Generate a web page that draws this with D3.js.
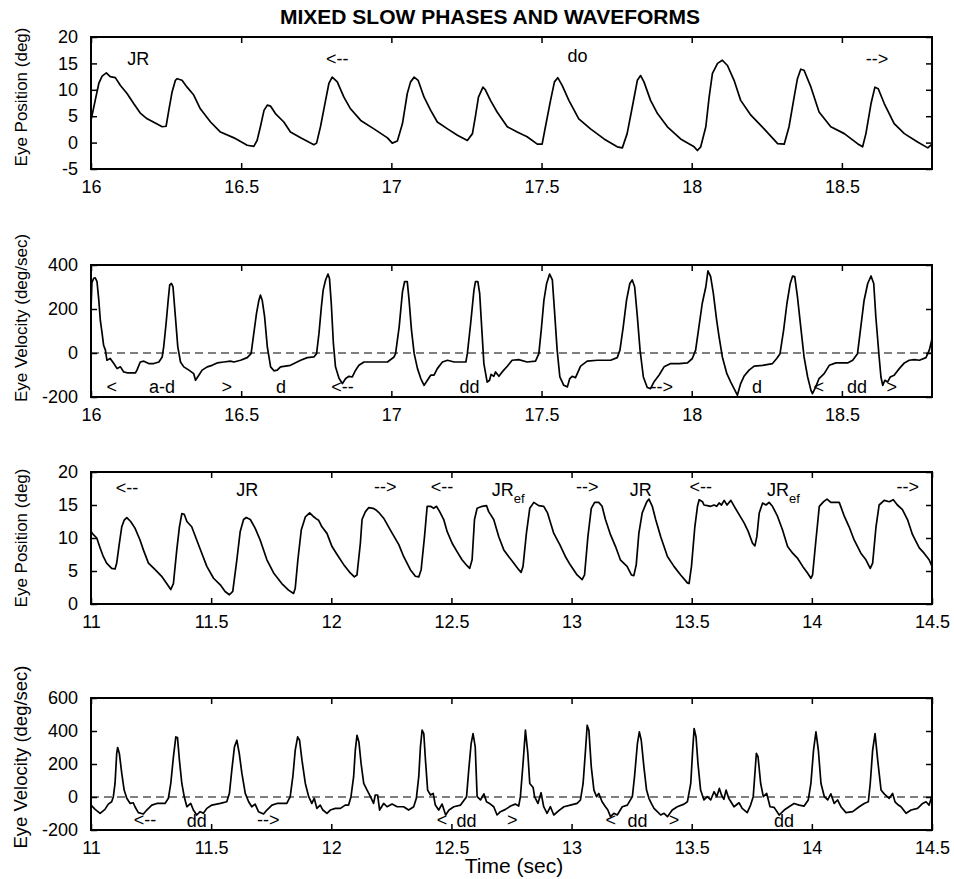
<!DOCTYPE html>
<html>
<head>
<meta charset="utf-8">
<script src="https://cdn.jsdelivr.net/npm/d3@7/dist/d3.min.js"></script>
<style>
	body { margin: 0; background: #fff; }
	text { font-family: "Liberation Sans", Arial, Helvetica, sans-serif; fill: #000; }
</style>
</head>
<body>
<div class="chart"></div>
<script>
// values: [time (s), value]
const title = 'MIXED SLOW PHASES AND WAVEFORMS';
const xLabel = 'Time (sec)';

// panel 1 - eye position, 16-18.8 s
const pos1 = [[16.00,4.2],[16.014,8.0],[16.026,11.2],[16.037,12.6],[16.051,13.2],[16.064,12.5],[16.081,12.3],[16.098,10.8],[16.12,9.3],[16.142,7.4],[16.164,5.6],[16.187,4.5],[16.22,3.5],[16.237,3.0],[16.25,3.1],[16.259,6.1],[16.27,9.6],[16.281,11.8],[16.287,12.1],[16.303,11.8],[16.32,10.5],[16.342,9.0],[16.364,6.4],[16.398,3.9],[16.431,2.0],[16.476,0.9],[16.52,-0.5],[16.542,-0.7],[16.553,0.4],[16.564,3.0],[16.576,6.1],[16.587,7.1],[16.598,6.9],[16.614,5.5],[16.642,3.9],[16.664,2.0],[16.698,0.9],[16.742,-0.4],[16.751,-0.1],[16.764,3.0],[16.781,8.0],[16.792,11.2],[16.803,12.4],[16.82,11.5],[16.842,8.6],[16.864,6.4],[16.898,4.2],[16.942,2.6],[16.987,0.9],[17.003,-0.1],[17.02,0.3],[17.037,3.6],[17.053,9.3],[17.064,11.5],[17.076,12.4],[17.089,11.8],[17.109,8.6],[17.131,6.1],[17.153,3.9],[17.187,2.6],[17.22,1.4],[17.253,0.4],[17.27,1.7],[17.28,5.0],[17.29,8.6],[17.305,10.5],[17.313,10.0],[17.33,8.0],[17.352,5.8],[17.386,3.0],[17.419,2.0],[17.452,1.1],[17.486,-0.3],[17.502,-0.3],[17.513,3.0],[17.53,8.0],[17.543,11.5],[17.554,12.3],[17.569,10.8],[17.591,8.0],[17.624,4.5],[17.663,2.6],[17.708,0.7],[17.752,-0.8],[17.769,-1.0],[17.785,1.7],[17.802,6.7],[17.819,11.8],[17.83,12.7],[17.841,11.5],[17.863,8.0],[17.886,5.5],[17.919,3.0],[17.963,0.7],[18.008,-0.8],[18.019,-1.5],[18.03,-0.8],[18.047,3.0],[18.058,8.6],[18.069,13.1],[18.086,15.0],[18.102,15.6],[18.119,14.6],[18.141,11.8],[18.163,8.0],[18.197,5.2],[18.241,2.6],[18.286,-0.2],[18.308,-0.3],[18.324,3.0],[18.341,8.6],[18.352,12.1],[18.363,13.9],[18.374,13.7],[18.397,10.5],[18.424,5.8],[18.463,3.0],[18.508,1.7],[18.552,-0.2],[18.569,-0.8],[18.58,1.7],[18.597,7.4],[18.61,10.5],[18.621,10.2],[18.641,7.4],[18.674,3.6],[18.708,1.7],[18.752,0.1],[18.786,-1.0],[18.80,-0.3]];

// panel 2 - eye velocity, 16-18.8 s
const vel1 = [[16.0,200],[16.003,320],[16.009,340],[16.014,342],[16.02,324],[16.026,240],[16.031,149],[16.037,89],[16.042,35],[16.048,13],[16.053,-33],[16.064,-25],[16.076,-48],[16.087,-71],[16.098,-63],[16.109,-86],[16.12,-90],[16.148,-90],[16.153,-78],[16.164,-41],[16.176,-37],[16.192,-48],[16.209,-48],[16.226,-41],[16.237,-18],[16.242,28],[16.25,134],[16.257,240],[16.262,309],[16.268,316],[16.273,301],[16.281,165],[16.289,28],[16.298,-41],[16.309,-63],[16.326,-78],[16.342,-94],[16.348,-124],[16.359,-101],[16.37,-78],[16.387,-63],[16.403,-56],[16.42,-45],[16.442,-41],[16.464,-37],[16.476,-41],[16.498,-33],[16.52,-21],[16.533,-3],[16.542,89],[16.551,180],[16.559,240],[16.564,263],[16.57,240],[16.578,165],[16.587,28],[16.598,-63],[16.609,-81],[16.62,-78],[16.631,-63],[16.664,-56],[16.676,-48],[16.698,-33],[16.72,-21],[16.742,-18],[16.751,-3],[16.759,89],[16.767,210],[16.773,286],[16.781,332],[16.789,359],[16.794,339],[16.8,225],[16.807,43],[16.814,-63],[16.826,-116],[16.837,-139],[16.848,-116],[16.859,-106],[16.87,-109],[16.881,-78],[16.892,-56],[16.909,-41],[16.942,-41],[16.987,-41],[17.009,-18],[17.014,-3],[17.026,119],[17.037,278],[17.044,324],[17.053,324],[17.059,240],[17.067,104],[17.076,-3],[17.087,-71],[17.098,-116],[17.109,-147],[17.12,-124],[17.131,-101],[17.142,-101],[17.153,-71],[17.17,-41],[17.187,-33],[17.209,-41],[17.248,-41],[17.253,-3],[17.264,134],[17.275,286],[17.28,324],[17.288,324],[17.294,271],[17.302,89],[17.308,-48],[17.319,-132],[17.327,-124],[17.332,-97],[17.341,-106],[17.347,-86],[17.358,-106],[17.369,-86],[17.386,-60],[17.402,-33],[17.424,-30],[17.452,-41],[17.48,-37],[17.491,-3],[17.499,104],[17.508,240],[17.517,316],[17.527,359],[17.536,332],[17.543,195],[17.552,13],[17.561,-109],[17.574,-147],[17.586,-154],[17.594,-116],[17.602,-106],[17.613,-112],[17.619,-94],[17.63,-60],[17.652,-37],[17.686,-33],[17.73,-33],[17.752,-21],[17.761,13],[17.772,119],[17.783,240],[17.794,316],[17.802,332],[17.81,301],[17.819,165],[17.828,13],[17.839,-109],[17.852,-157],[17.863,-162],[17.874,-132],[17.891,-101],[17.908,-63],[17.93,-48],[17.958,-48],[17.986,-45],[18.002,-25],[18.013,13],[18.024,119],[18.035,225],[18.047,301],[18.054,373],[18.063,347],[18.072,271],[18.083,149],[18.091,74],[18.102,-18],[18.117,-94],[18.13,-132],[18.141,-162],[18.152,-192],[18.163,-139],[18.174,-106],[18.191,-78],[18.208,-60],[18.236,-56],[18.269,-48],[18.283,-25],[18.294,-3],[18.306,104],[18.317,225],[18.328,316],[18.336,350],[18.343,347],[18.352,256],[18.363,119],[18.374,-18],[18.386,-109],[18.397,-170],[18.402,-185],[18.413,-154],[18.424,-116],[18.441,-94],[18.458,-56],[18.48,-45],[18.519,-45],[18.536,-33],[18.552,-3],[18.563,119],[18.574,240],[18.586,316],[18.597,350],[18.606,316],[18.613,165],[18.624,-18],[18.63,-109],[18.636,-147],[18.643,-124],[18.652,-132],[18.661,-109],[18.674,-101],[18.691,-71],[18.708,-45],[18.724,-33],[18.741,-30],[18.758,-33],[18.78,-21],[18.791,13],[18.799,58],[18.80,81]];

// panel 3 - eye position, 11-14.5 s
const pos2 = [[11.0,11.0],[11.01,10.5],[11.024,10.0],[11.038,8.5],[11.051,7.2],[11.065,6.2],[11.086,5.4],[11.1,5.3],[11.107,6.2],[11.118,9.2],[11.128,11.7],[11.138,12.7],[11.149,13.1],[11.165,12.5],[11.183,11.5],[11.204,9.7],[11.218,8.2],[11.239,6.2],[11.267,5.2],[11.294,4.2],[11.315,3.1],[11.332,2.2],[11.343,3.1],[11.357,8.2],[11.368,11.7],[11.378,13.7],[11.388,13.6],[11.399,12.5],[11.419,11.7],[11.44,9.7],[11.461,7.7],[11.482,5.7],[11.51,3.9],[11.538,2.9],[11.558,1.9],[11.576,1.4],[11.59,1.9],[11.607,6.7],[11.621,11.0],[11.635,12.8],[11.646,13.1],[11.663,12.8],[11.683,11.5],[11.704,9.7],[11.732,6.7],[11.76,4.7],[11.794,3.1],[11.822,2.1],[11.843,1.6],[11.85,2.4],[11.861,6.7],[11.875,11.2],[11.892,13.2],[11.91,13.8],[11.924,13.3],[11.938,12.9],[11.947,12.7],[11.961,11.7],[11.982,10.7],[12.003,8.7],[12.024,7.5],[12.051,6.0],[12.079,4.7],[12.096,4.1],[12.107,4.4],[12.121,9.2],[12.128,12.8],[12.142,14.0],[12.156,14.6],[12.174,14.5],[12.188,14.2],[12.197,13.9],[12.218,13.0],[12.246,11.2],[12.281,9.0],[12.301,7.2],[12.329,5.2],[12.35,4.2],[12.364,4.1],[12.374,5.2],[12.388,10.2],[12.399,14.8],[12.413,14.8],[12.426,14.5],[12.438,14.8],[12.451,14.0],[12.468,12.8],[12.482,11.0],[12.503,9.2],[12.524,7.9],[12.544,6.7],[12.565,5.8],[12.576,5.4],[12.586,6.7],[12.596,12.8],[12.607,14.5],[12.628,14.8],[12.646,14.9],[12.655,14.0],[12.676,12.8],[12.697,10.2],[12.718,8.2],[12.738,7.2],[12.759,6.2],[12.78,5.2],[12.79,4.8],[12.798,5.7],[12.812,10.7],[12.826,14.5],[12.843,15.4],[12.863,14.9],[12.884,14.8],[12.9,13.8],[12.926,10.7],[12.951,9.0],[12.974,7.2],[12.995,5.9],[13.023,4.4],[13.044,3.7],[13.054,4.4],[13.068,10.2],[13.082,14.5],[13.096,15.4],[13.113,15.4],[13.127,14.8],[13.141,12.8],[13.162,10.5],[13.183,8.7],[13.203,6.7],[13.231,5.7],[13.249,4.4],[13.259,4.3],[13.269,5.9],[13.28,10.7],[13.294,13.8],[13.312,15.4],[13.322,15.9],[13.336,14.8],[13.35,12.8],[13.371,10.2],[13.399,7.2],[13.426,5.7],[13.454,4.4],[13.482,3.2],[13.489,3.1],[13.499,5.7],[13.513,11.7],[13.524,14.8],[13.531,15.8],[13.545,15.5],[13.551,15.0],[13.565,14.9],[13.579,14.8],[13.593,15.0],[13.604,14.8],[13.614,15.3],[13.624,15.0],[13.635,15.7],[13.647,15.0],[13.663,15.7],[13.677,14.8],[13.698,13.5],[13.718,12.3],[13.735,11.0],[13.753,9.2],[13.763,8.8],[13.771,10.2],[13.781,13.8],[13.795,15.3],[13.809,15.0],[13.822,15.4],[13.836,14.8],[13.857,13.3],[13.878,11.2],[13.899,8.7],[13.92,7.7],[13.941,6.9],[13.962,5.7],[13.982,4.7],[13.996,3.9],[14.003,4.4],[14.017,9.7],[14.031,14.8],[14.049,15.5],[14.063,15.9],[14.079,15.4],[14.114,15.4],[14.135,13.3],[14.155,11.7],[14.176,9.7],[14.204,7.7],[14.225,6.7],[14.243,5.4],[14.253,6.2],[14.267,11.7],[14.28,15.0],[14.301,15.7],[14.322,15.5],[14.339,15.8],[14.356,15.0],[14.377,14.3],[14.398,12.8],[14.419,10.5],[14.447,8.5],[14.467,7.7],[14.488,6.7],[14.5,5.7]];

// panel 4 - eye velocity, 11-14.5 s
const vel2 = [[11.0,-49],[11.017,-75],[11.038,-99],[11.058,-75],[11.072,-43],[11.086,-29],[11.093,2],[11.1,82],[11.107,264],[11.111,300],[11.118,264],[11.128,143],[11.138,42],[11.149,-8],[11.163,-39],[11.176,-35],[11.183,-59],[11.197,-95],[11.218,-103],[11.232,-79],[11.253,-49],[11.274,-39],[11.308,-39],[11.322,-8],[11.332,82],[11.343,243],[11.353,364],[11.36,360],[11.368,223],[11.378,82],[11.388,2],[11.399,-59],[11.415,-39],[11.426,-79],[11.44,-109],[11.454,-89],[11.468,-99],[11.482,-69],[11.503,-49],[11.538,-39],[11.565,-29],[11.576,22],[11.586,163],[11.597,304],[11.607,344],[11.617,264],[11.628,143],[11.642,22],[11.656,-29],[11.669,-59],[11.683,-43],[11.697,-89],[11.718,-103],[11.732,-79],[11.753,-49],[11.774,-39],[11.815,-39],[11.829,2],[11.84,123],[11.85,284],[11.86,364],[11.868,344],[11.878,223],[11.892,82],[11.906,2],[11.919,-39],[11.929,-8],[11.94,-69],[11.954,-49],[11.965,-79],[11.982,-99],[11.996,-79],[12.017,-69],[12.038,-69],[12.058,-49],[12.072,-49],[12.082,2],[12.093,123],[12.1,284],[12.107,374],[12.115,334],[12.124,203],[12.135,82],[12.149,42],[12.163,2],[12.176,-39],[12.183,12],[12.193,12],[12.201,-79],[12.218,-39],[12.232,-59],[12.253,-43],[12.274,-59],[12.301,-59],[12.322,-79],[12.343,-59],[12.354,-8],[12.364,123],[12.371,304],[12.378,405],[12.385,384],[12.392,223],[12.401,42],[12.413,12],[12.424,22],[12.433,-49],[12.447,-79],[12.461,-43],[12.476,-109],[12.49,-79],[12.51,-59],[12.538,-49],[12.563,2],[12.572,163],[12.582,324],[12.59,384],[12.599,304],[12.607,2],[12.621,-18],[12.635,19],[12.646,-29],[12.662,-43],[12.676,-59],[12.69,-109],[12.704,-89],[12.725,-75],[12.746,-55],[12.766,-43],[12.78,-55],[12.787,2],[12.798,203],[12.808,405],[12.818,264],[12.826,82],[12.84,58],[12.846,2],[12.86,-39],[12.873,26],[12.884,-59],[12.898,-99],[12.912,-59],[12.926,-109],[12.947,-83],[12.968,-59],[12.995,-49],[13.023,-39],[13.037,-18],[13.048,82],[13.058,284],[13.065,435],[13.072,405],[13.082,183],[13.093,42],[13.104,2],[13.113,22],[13.127,-29],[13.141,-59],[13.151,-79],[13.162,-119],[13.176,-99],[13.19,-109],[13.211,-59],[13.232,-49],[13.253,2],[13.262,123],[13.274,324],[13.282,395],[13.29,344],[13.301,183],[13.312,42],[13.322,-8],[13.332,-39],[13.343,-69],[13.357,-89],[13.371,-109],[13.385,-99],[13.399,-119],[13.419,-79],[13.44,-59],[13.468,-43],[13.482,-29],[13.496,82],[13.504,284],[13.51,415],[13.518,364],[13.526,203],[13.537,42],[13.551,-18],[13.565,2],[13.579,-18],[13.593,32],[13.604,2],[13.615,52],[13.624,12],[13.634,-14],[13.643,42],[13.654,-8],[13.676,-59],[13.697,-35],[13.71,-69],[13.731,-95],[13.745,-49],[13.756,2],[13.762,123],[13.769,264],[13.776,244],[13.787,82],[13.798,2],[13.812,22],[13.826,-59],[13.843,-63],[13.864,-109],[13.885,-79],[13.905,-59],[13.926,-39],[13.947,-49],[13.968,-55],[13.985,-18],[13.996,82],[14.007,284],[14.017,395],[14.027,284],[14.038,82],[14.052,2],[14.066,-18],[14.079,19],[14.093,-39],[14.107,-18],[14.121,-59],[14.142,-95],[14.17,-89],[14.197,-59],[14.218,-39],[14.235,-29],[14.243,82],[14.253,284],[14.263,384],[14.274,223],[14.288,42],[14.301,19],[14.322,-8],[14.336,22],[14.346,-29],[14.36,-49],[14.371,-59],[14.392,-99],[14.413,-79],[14.44,-69],[14.461,-39],[14.475,-29],[14.488,-49],[14.499,2],[14.5,52]];

// axis ticks
const xTicks1 = [16, 16.5, 17, 17.5, 18, 18.5];
const xTicks2 = [11, 11.5, 12, 12.5, 13, 13.5, 14, 14.5];
const yTicksPos1 = [-5, 0, 5, 10, 15, 20];
const yTicksVel1 = [-200, 0, 200, 400];
const yTicksPos2 = [0, 5, 10, 15, 20];
const yTicksVel2 = [-200, 0, 200, 400, 600];

// waveform / direction notes [time, value, text, subscript]
const notes1 = [[16.157,14.7,'JR'],[16.82,14.7,'<--'],[17.62,15.2,'do'],[18.617,14.7,'-->']];
const notes2 = [[16.069,-180,'<'],[16.236,-180,'a-d'],[16.452,-180,'>'],[16.633,-180,'d'],[16.837,-180,'<--'],[17.26,-180,'dd'],[17.9,-180,'-->'],[18.217,-180,'d'],[18.423,-180,'<'],[18.55,-180,'dd'],[18.666,-180,'>']];
const notes3 = [[11.15,16.6,'<--'],[11.65,16.4,'JR'],[12.225,16.8,'-->'],[12.461,16.8,'<--'],[12.736,16.4,'JR','ef'],[13.065,16.8,'-->'],[13.288,16.4,'JR'],[13.538,16.8,'<--'],[13.882,16.4,'JR','ef'],[14.399,16.8,'-->']];
const notes4 = [[11.225,-175,'<--'],[11.44,-180,'dd'],[11.738,-175,'-->'],[12.461,-175,'<'],[12.563,-180,'dd'],[12.753,-175,'>'],[13.163,-175,'<'],[13.274,-180,'dd'],[13.426,-175,'>'],[13.884,-180,'dd']];

let width = 954, height = 879;
let left = 91, right = 932, ph = 132;

let svg = d3.select('.chart')
	.append('svg')
	.attr('width', width)
	.attr('height', height);

svg.append('text')
	.attr('x', 490)
	.attr('y', 24)
	.attr('text-anchor', 'middle')
	.style('font-size', '21px')
	.style('font-weight', 'bold')
	.text(title);

let panels = [
	{top: 37, data: pos1, xd: [16, 18.8], yd: [-5, 20], xt: xTicks1, yt: yTicksPos1, label: 'Eye Position (deg)', ly: 97, lfs: 17, notes: notes1, zero: false},
	{top: 265, data: vel1, xd: [16, 18.8], yd: [-200, 400], xt: xTicks1, yt: yTicksVel1, label: 'Eye Velocity (deg/sec)', ly: 318, lfs: 17, notes: notes2, zero: true},
	{top: 472, data: pos2, xd: [11, 14.5], yd: [0, 20], xt: xTicks2, yt: yTicksPos2, label: 'Eye Position (deg)', ly: 538, lfs: 17, notes: notes3, zero: false},
	{top: 698, data: vel2, xd: [11, 14.5], yd: [-200, 600], xt: xTicks2, yt: yTicksVel2, label: 'Eye Velocity (deg/sec)', ly: 757, lfs: 18.5, notes: notes4, zero: true}
];

panels.forEach((p, i) => {
	let xScale = d3.scaleLinear().domain(p.xd).range([left, right]);
	let yScale = d3.scaleLinear().domain(p.yd).range([p.top + ph, p.top]);
	let g = svg.append('g');

	g.append('clipPath')
		.attr('id', 'clip' + i)
		.append('rect')
		.attr('x', left).attr('y', p.top)
		.attr('width', right - left).attr('height', ph);

	if (p.zero) {
		g.append('line')
			.attr('x1', left).attr('x2', right)
			.attr('y1', yScale(0)).attr('y2', yScale(0))
			.style('stroke', '#000')
			.style('stroke-width', 1.2)
			.style('stroke-dasharray', '8,5');
	}

	let line = d3.line()
		.x(d => xScale(d[0]))
		.y(d => yScale(d[1]));

	g.append('path')
		.datum(p.data)
		.attr('d', line)
		.attr('clip-path', 'url(#clip' + i + ')')
		.style('fill', 'none')
		.style('stroke', '#000')
		.style('stroke-width', 1.7)
		.style('stroke-linejoin', 'round');

	// inward ticks on all four sides
	let fmt = d => String(d);
	let axes = [
		{ax: d3.axisBottom(xScale).tickValues(p.xt).tickFormat(fmt).tickPadding(11), tr: 'translate(0,' + (p.top + ph) + ')'},
		{ax: d3.axisTop(xScale).tickValues(p.xt).tickFormat(''), tr: 'translate(0,' + p.top + ')'},
		{ax: d3.axisLeft(yScale).tickValues(p.yt).tickFormat(fmt).tickPadding(13), tr: 'translate(' + left + ',0)'},
		{ax: d3.axisRight(yScale).tickValues(p.yt).tickFormat(''), tr: 'translate(' + right + ',0)'}
	];
	axes.forEach(a => {
		let ag = g.append('g')
			.attr('transform', a.tr)
			.call(a.ax.tickSizeInner(-6).tickSizeOuter(0));
		ag.select('.domain').remove();
		ag.selectAll('line').style('stroke', '#000').style('stroke-width', 1.5);
		ag.selectAll('text').style('font-size', '18px').style('font-family', null).attr('fill', '#000');
	});

	g.append('rect')
		.attr('x', left).attr('y', p.top)
		.attr('width', right - left).attr('height', ph)
		.style('fill', 'none')
		.style('stroke', '#000')
		.style('stroke-width', 2);

	g.append('text')
		.attr('transform', 'translate(27,' + p.ly + ') rotate(-90)')
		.attr('text-anchor', 'middle')
		.style('font-size', p.lfs + 'px')
		.text(p.label);

	p.notes.forEach(n => {
		let t = g.append('text')
			.attr('x', xScale(n[0]))
			.attr('y', yScale(n[1]))
			.attr('text-anchor', 'middle')
			.style('font-size', '18px')
			.text(n[2]);
		if (n[3]) {
			t.append('tspan')
				.attr('dy', 7)
				.style('font-size', '13px')
				.text(n[3]);
		}
	});
});

svg.append('text')
	.attr('x', 514)
	.attr('y', 873)
	.attr('text-anchor', 'middle')
	.style('font-size', '21px')
	.text(xLabel);
</script>
</body>
</html>
